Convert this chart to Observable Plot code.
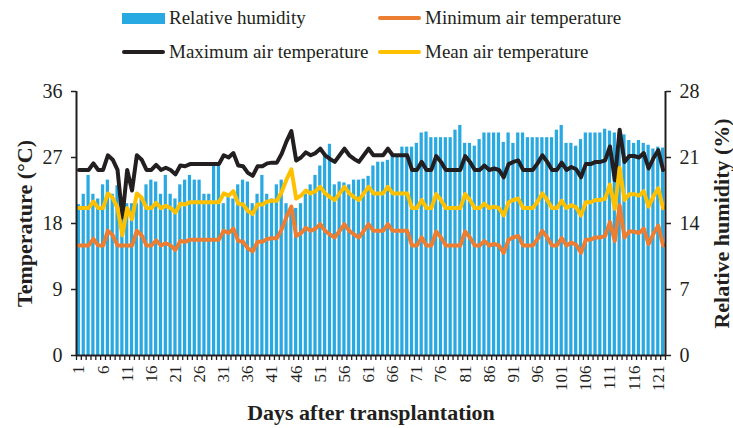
<!DOCTYPE html>
<html>
<head>
<meta charset="utf-8">
<script src="https://cdn.jsdelivr.net/npm/d3@7"></script>
<script src="https://cdn.jsdelivr.net/npm/@observablehq/plot@0.6"></script>
<style>
  html, body { margin: 0; padding: 0; background: #fff; }
  #wrap { width: 733px; font-family: "Liberation Serif", "Times New Roman", serif; color: #231F20; }
  #legend { position: relative; width: 733px; height: 75px; font-size: 19px; }
  .item { position: absolute; display: flex; align-items: center; white-space: nowrap; }
  .sw { display: inline-block; width: 43px; margin-right: 4px; }
  .rect { height: 11px; }
  .ln { height: 4px; border-radius: 2px; }
  #chart svg text { font-family: "Liberation Serif", "Times New Roman", serif; }
</style>
</head>
<body>
<div id="wrap">
  <div id="legend"></div>
  <div id="chart"></div>
</div>
<script>
const days = d3.range(1, 123);
const tickDays = [1, 6, 11, 16, 21, 26, 31, 36, 41, 46, 51, 56, 61, 66, 71, 76, 81, 86, 91, 96, 101, 106, 111, 116, 121];
const tempTicks = [0, 9, 18, 27, 36];
const humTicks = [0, 7, 14, 21, 28];

const humidity = [
  16.0, 17.1, 19.1, 17.1, 16.6, 18.1, 18.6, 17.1, 18.0, 16.1,
  16.1, 16.1, 16.1, 16.6, 18.1, 18.6, 18.4, 17.1, 19.1, 17.1,
  16.6, 18.1, 18.6, 19.1, 18.6, 18.6, 17.1, 17.1, 20.1, 20.1,
  16.1, 17.1, 16.6, 18.1, 18.6, 18.4, 16.1, 17.1, 19.1, 17.1,
  16.6, 18.1, 18.6, 16.1, 15.6, 15.6, 16.1, 17.1, 18.1, 19.1,
  20.1, 21.2, 22.4, 18.1, 18.4, 18.3, 18.1, 18.6, 18.6, 18.7,
  19.0, 20.1, 20.5, 20.5, 20.7, 21.2, 21.2, 22.1, 22.1, 22.1,
  22.5, 23.6, 23.7, 23.1, 23.1, 23.1, 23.1, 23.1, 23.9, 24.4,
  22.5, 22.5, 22.2, 22.9, 23.6, 23.6, 23.6, 23.6, 22.6, 23.6,
  22.5, 23.6, 23.6, 23.1, 23.1, 23.1, 23.1, 23.1, 23.1, 23.9,
  24.4, 22.5, 22.5, 22.2, 22.9, 23.6, 23.6, 23.6, 23.6, 24.0,
  23.8, 23.6, 23.6, 23.4, 22.8, 22.5, 22.8, 22.5, 22.3, 21.9,
  22.1, 22.0
];

const tMax = [
  25.3, 25.3, 25.3, 26.2, 25.3, 25.3, 27.3, 26.7, 25.3, 18.8,
  25.3, 22.5, 27.3, 26.7, 25.3, 25.3, 26.0, 25.3, 25.6, 25.3,
  24.7, 25.9, 25.8, 26.1, 26.1, 26.1, 26.1, 26.1, 26.1, 26.1,
  27.3, 27.0, 27.6, 25.9, 25.8, 24.9, 24.5, 25.8, 25.8, 26.2,
  26.3, 26.3, 27.5, 29.2, 30.6, 26.6, 27.0, 27.7, 27.3, 27.6,
  28.2, 27.3, 26.8, 26.4, 27.3, 28.2, 27.3, 26.8, 26.4, 27.3,
  28.2, 27.3, 27.3, 27.3, 28.2, 27.3, 27.3, 27.3, 27.3, 25.3,
  25.3, 26.4, 25.3, 25.3, 27.2, 26.4, 25.3, 25.3, 25.3, 25.3,
  27.2, 26.4, 25.3, 25.3, 25.9, 25.3, 25.5, 25.3, 24.3, 26.1,
  26.4, 26.6, 25.3, 25.3, 25.3, 26.2, 27.3, 26.4, 25.3, 25.3,
  26.3, 25.3, 25.7, 25.4, 24.3, 26.1, 26.1, 26.4, 26.4, 26.6,
  28.5, 23.9, 30.8, 26.4, 27.2, 27.2, 27.0, 27.6, 25.5, 26.9,
  28.0, 25.3
];

const tMean = [
  20.1, 20.1, 20.1, 21.0, 20.1, 20.1, 22.1, 21.5, 20.1, 16.4,
  20.1, 18.6, 22.1, 21.5, 20.1, 20.1, 20.8, 20.1, 20.4, 20.1,
  19.5, 20.7, 20.6, 20.9, 20.9, 20.9, 20.9, 20.9, 20.9, 20.9,
  22.1, 21.8, 22.4, 20.7, 20.6, 19.7, 19.3, 20.6, 20.6, 21.0,
  21.1, 21.1, 22.3, 24.0, 25.4, 21.4, 21.8, 22.5, 22.1, 22.4,
  23.0, 22.1, 21.6, 21.2, 22.1, 23.0, 22.1, 21.6, 21.2, 22.1,
  23.0, 22.1, 22.1, 22.1, 23.0, 22.1, 22.1, 22.1, 22.1, 20.1,
  20.1, 21.2, 20.1, 20.1, 22.0, 21.2, 20.1, 20.1, 20.1, 20.1,
  22.0, 21.2, 20.1, 20.1, 20.7, 20.1, 20.3, 20.1, 19.1, 20.9,
  21.2, 21.4, 20.1, 20.1, 20.1, 21.0, 22.1, 21.2, 20.1, 20.1,
  21.1, 20.1, 20.5, 20.2, 19.1, 20.9, 20.9, 21.2, 21.2, 21.4,
  23.3, 20.0, 25.6, 21.2, 22.0, 22.0, 21.8, 22.4, 20.3, 21.7,
  22.8, 20.1
];

const tMin = [
  15.0, 15.0, 15.0, 15.9, 15.0, 15.0, 17.0, 16.4, 15.0, 15.0,
  15.0, 15.0, 17.0, 16.4, 15.0, 15.0, 15.7, 15.0, 15.3, 15.0,
  14.4, 15.6, 15.5, 15.8, 15.8, 15.8, 15.8, 15.8, 15.8, 15.8,
  17.0, 16.7, 17.3, 15.6, 15.5, 14.6, 14.2, 15.5, 15.5, 15.9,
  16.0, 16.0, 17.2, 18.9, 20.3, 16.3, 16.7, 17.4, 17.0, 17.3,
  17.9, 17.0, 16.5, 16.1, 17.0, 17.9, 17.0, 16.5, 16.1, 17.0,
  17.9, 17.0, 17.0, 17.0, 17.9, 17.0, 17.0, 17.0, 17.0, 15.0,
  15.0, 16.1, 15.0, 15.0, 16.9, 16.1, 15.0, 15.0, 15.0, 15.0,
  16.9, 16.1, 15.0, 15.0, 15.6, 15.0, 15.2, 15.0, 14.0, 15.8,
  16.1, 16.3, 15.0, 15.0, 15.0, 15.9, 17.0, 16.1, 15.0, 15.0,
  16.0, 15.0, 15.4, 15.1, 14.0, 15.8, 15.8, 16.1, 16.1, 16.3,
  18.2, 15.6, 20.5, 16.1, 16.9, 16.9, 16.7, 17.3, 15.2, 16.6,
  17.7, 15.0
];

const seriesNames = ["Relative humidity", "Minimum air temperature", "Maximum air temperature", "Mean air temperature"];
const colors = {rh: "#29A9E1", min: "#ED7D31", max: "#231F20", mean: "#FFC000"};
const axisColor = "#231F20";
const serif = "'Liberation Serif', 'Times New Roman', serif";

// legend
const legend = document.getElementById("legend");
const legendItems = [
  {name: seriesNames[0], color: colors.rh, kind: "rect", left: 122, top: 18},
  {name: seriesNames[1], color: colors.min, kind: "ln", left: 378, top: 18},
  {name: seriesNames[2], color: colors.max, kind: "ln", left: 122, top: 52},
  {name: seriesNames[3], color: colors.mean, kind: "ln", left: 378, top: 52}
];
for (const it of legendItems) {
  const div = document.createElement("div");
  div.className = "item";
  div.style.left = it.left + "px";
  div.style.top = (it.top - 12) + "px";
  div.style.height = "24px";
  const sw = document.createElement("span");
  sw.className = "sw " + it.kind;
  sw.style.background = it.color;
  const tx = document.createElement("span");
  tx.textContent = it.name;
  div.appendChild(sw);
  div.appendChild(tx);
  legend.appendChild(div);
}

const rows = days.map((d, i) => ({day: d, rh: humidity[i], min: tMin[i], max: tMax[i], mean: tMean[i]}));
const toTemp = h => h * 36 / 28;

const chart = Plot.plot({
  width: 733,
  height: 353,
  marginTop: 16,
  marginBottom: 73,
  marginLeft: 76,
  marginRight: 68,
  style: {fontFamily: serif, color: axisColor, background: "#fff"},
  x: {type: "linear", domain: [0.5, 122.5]},
  y: {domain: [0, 36]},
  marks: [
    Plot.rectY(rows, {x1: d => d.day - 0.5, x2: d => d.day + 0.5, y: d => toTemp(d.rh), fill: colors.rh, insetLeft: 0.8, insetRight: 0.8}),
    Plot.lineY(rows, {x: "day", y: "min", stroke: colors.min, strokeWidth: 4}),
    Plot.lineY(rows, {x: "day", y: "max", stroke: colors.max, strokeWidth: 4}),
    Plot.lineY(rows, {x: "day", y: "mean", stroke: colors.mean, strokeWidth: 4}),
    // axis lines
    Plot.ruleX([0.5], {y1: 0, y2: 36, stroke: axisColor, strokeWidth: 2}),
    Plot.ruleX([122.5], {y1: 0, y2: 36, stroke: axisColor, strokeWidth: 2}),
    Plot.ruleY([0], {stroke: axisColor, strokeWidth: 2}),
    Plot.axisY({anchor: "left", ticks: tempTicks, tickSize: 5, tickPadding: 9, fontSize: 20, fontFamily: serif, label: null, stroke: axisColor, strokeWidth: 1.5}),
    Plot.axisY({anchor: "right", ticks: humTicks.map(toTemp), tickFormat: (v, i) => humTicks[i], tickSize: 5, tickPadding: 9, fontSize: 20, fontFamily: serif, label: null, stroke: axisColor, strokeWidth: 1.5}),
    Plot.axisX({ticks: d3.range(0.5, 123, 1), tickFormat: () => "", tickSize: 5, label: null, stroke: axisColor, strokeWidth: 1.3}),
    Plot.axisX({ticks: tickDays, tickSize: 0, tickPadding: 10, tickRotate: -90, fontSize: 17, fontFamily: serif, label: null}),
    Plot.text(["Temperature (°C)"], {frameAnchor: "left", textAnchor: "middle", lineAnchor: "middle", dx: -52, rotate: -90, fontSize: 22, fontWeight: "bold", fontFamily: serif, fill: axisColor}),
    Plot.text(["Relative humidity (%)"], {frameAnchor: "right", textAnchor: "middle", lineAnchor: "middle", dx: 56, rotate: -90, fontSize: 22, fontWeight: "bold", fontFamily: serif, fill: axisColor}),
    Plot.text(["Days after transplantation"], {frameAnchor: "bottom", textAnchor: "middle", lineAnchor: "middle", dy: 57, fontSize: 22, fontWeight: "bold", fontFamily: serif, fill: axisColor})
  ]
});
document.getElementById("chart").appendChild(chart);
</script>
</body>
</html>
